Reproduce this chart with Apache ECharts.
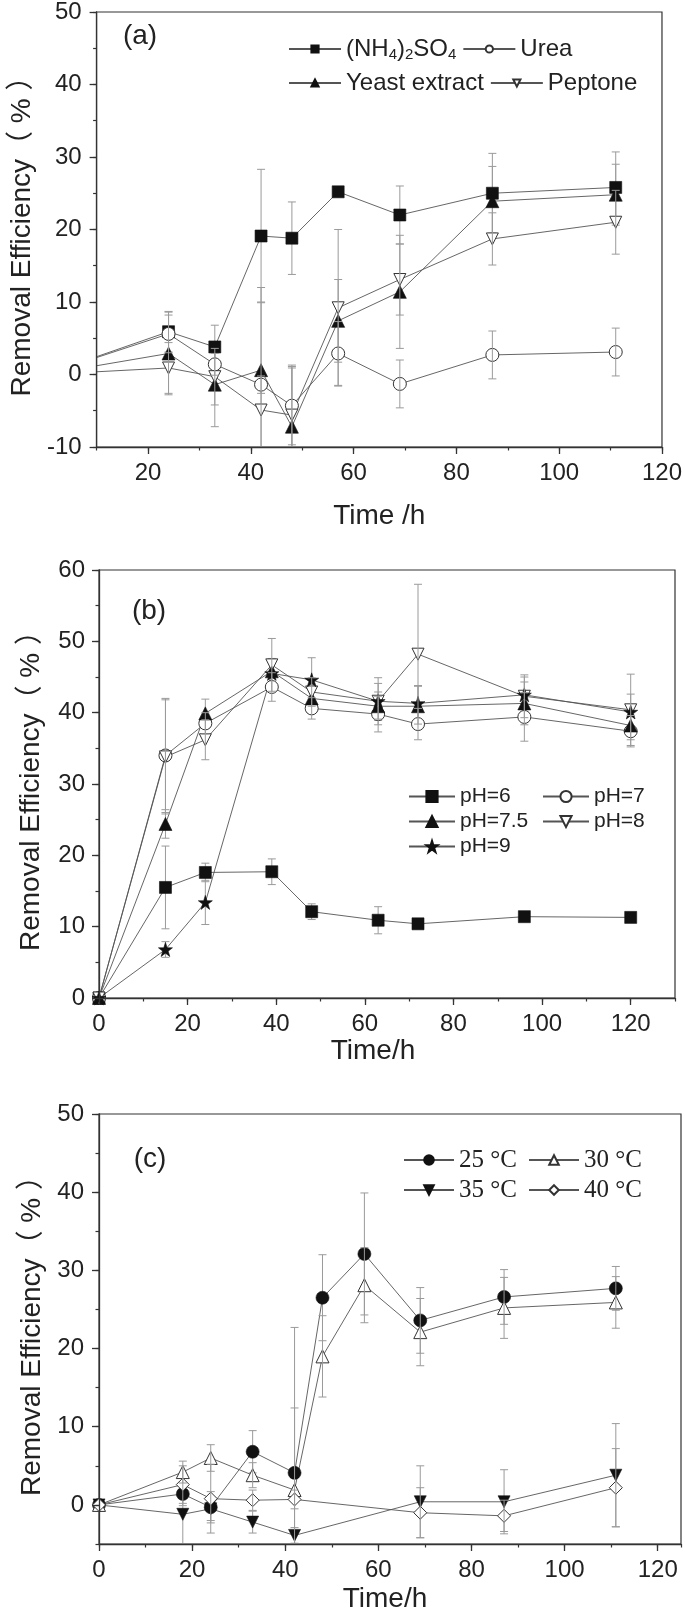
<!DOCTYPE html>
<html>
<head>
<meta charset="utf-8">
<script src="https://cdn.jsdelivr.net/npm/echarts@6/dist/echarts.min.js"></script>
<style>
html,body{margin:0;padding:0;background:#fff;}
#chart{width:685px;height:1614px;}
</style>
</head>
<body>
<div id="chart"></div>
<script>
// ---------- Panel (a): nitrogen source ----------
const timesA = [0, 24, 33, 42, 48, 57, 69, 87, 111];
const nh4 = [0, 5.9, 3.8, 19.1, 18.8, 25.2, 22.0, 25.0, 25.8];
const nh4Err = [0, 2.8, 3.0, 9.2, 5.0, 0, 4.0, 5.5, 4.9];
const urea = [0, 5.6, 1.4, -1.4, -4.3, 2.9, -1.3, 2.7, 3.1];
const ureaErr = [0, 2.6, 1.5, 1.2, 5.4, 4.4, 3.3, 3.3, 3.3];
const yeast = [0, 2.9, -1.4, 0.6, -7.2, 7.4, 11.4, 23.9, 24.8];
const yeastErr = [0, 5.7, 5.8, 11.4, 8.5, 5.7, 7.8, 4.8, 4.2];
const peptone = [0, 0.9, -0.3, -4.9, -5.6, 9.2, 13.1, 18.7, 21.0];
const peptoneErr = [0, 3.5, 3.9, 14.9, 6.5, 10.8, 4.9, 3.6, 4.4];

// ---------- Panel (b): pH ----------
const timesB = [0, 15, 24, 39, 48, 63, 72, 96, 120];
const ph6 = [0, 15.5, 17.6, 17.7, 12.1, 10.9, 10.4, 11.4, 11.3];
const ph6Err = [0, 5.8, 1.3, 1.8, 1.1, 1.9, 0, 0, 0];
const ph7 = [0, 34.0, 38.5, 43.6, 40.6, 39.8, 38.4, 39.4, 37.4];
const ph7Err = [0, 8.0, 1.5, 2.0, 1.5, 2.5, 2.2, 3.4, 2.2];
const ph75 = [0, 24.4, 39.9, 45.8, 42.0, 40.9, 40.9, 41.3, 38.2];
const ph75Err = [0, 2.0, 2.0, 1.8, 2.0, 2.0, 2.8, 3.0, 2.0];
const ph8 = [0, 33.8, 36.2, 46.7, 42.9, 41.6, 48.2, 42.3, 40.4];
const ph8Err = [0, 8.0, 2.8, 3.7, 2.0, 2.5, 9.8, 3.0, 5.0];
const ph9 = [0, 6.8, 13.4, 45.5, 44.6, 41.6, 41.3, 42.5, 40.1];
const ph9Err = [0, 1.1, 3.1, 2.0, 3.1, 3.3, 2.5, 2.5, 2.5];

// ---------- Panel (c): temperature ----------
const timesC = [0, 18, 24, 33, 42, 48, 57, 69, 87, 111];
const t25 = [0, 1.4, -0.3, 6.8, 4.1, 26.5, 32.1, 23.6, 26.6, 27.7];
const t25Err = [0, 1.5, 2.0, 2.7, 18.6, 5.5, 7.8, 4.2, 3.5, 2.8];
const t30 = [0, 4.2, 6.0, 3.8, 1.9, 19.0, 28.1, 22.1, 25.2, 25.9];
const t30Err = [0, 1.4, 1.7, 1.6, 10.5, 5.2, 4.8, 4.3, 3.9, 3.3];
const t35 = [0, -1.2, -0.5, -2.2, -3.9, null, null, 0.4, 0.4, 3.8];
const t35Err = [0, 5.0, 1.5, 1.4, 1.0, 0, 0, 4.6, 4.1, 6.6];
const t40 = [0, 2.6, 0.8, 0.6, 0.7, null, null, -1.0, -1.4, 2.2];
const t40Err = [0, 2.4, 4.4, 1.3, 1.2, 0, 0, 3.2, 2.0, 5.0];

const namesA = ['(NH4)2SO4', 'Urea', 'Yeast extract', 'Peptone'];
const namesB = ['pH=6', 'pH=7', 'pH=7.5', 'pH=8', 'pH=9'];
const namesC = ['25 °C', '30 °C', '35 °C', '40 °C'];

// ---------- styling ----------
const SANS = '"Liberation Sans", Arial, "Noto Sans CJK SC", sans-serif';
const SERIF = '"Liberation Serif", "Times New Roman", serif';
const AX = '#333';
const TXT = '#222';
const LINE = '#555';
const ERR = '#9a9a9a';
const STAR = 'path://M50,0 L61.8,35.3 L99,35.3 L69,57.1 L80.4,92.4 L50,70.6 L19.6,92.4 L31,57.1 L1,35.3 L38.2,35.3 Z';
const TRI_DOWN = 'path://M0,0 L100,0 L50,87 Z';

const grids = [
  {left: 79, top: 11, width: 586, height: 436},
  {left: 99, top: 570, width: 576, height: 428},
  {left: 99, top: 1114, width: 582, height: 432}
].map(g => Object.assign({show: true, borderColor: AX, borderWidth: 1.2, backgroundColor: 'transparent'}, g));

const tickFont = {color: TXT, fontFamily: SANS, fontSize: 24};
function mainAxis(kind, gi, o) {
  return Object.assign({
    type: 'value', gridIndex: gi, position: kind === 'x' ? 'bottom' : 'left',
    axisLine: {show: true, onZero: false, lineStyle: {color: AX, width: 1.3}},
    axisTick: {show: true, inside: false, length: 7, lineStyle: {color: AX, width: 1.3}},
    minorTick: {show: false},
    splitLine: {show: false},
    axisLabel: Object.assign({margin: kind === 'x' ? 14 : 15}, tickFont),
    nameLocation: 'middle',
    nameTextStyle: {color: TXT, fontFamily: SANS, fontSize: 28},
    z: 5
  }, o);
}
function minorAxis(kind, gi, o) {
  return Object.assign({
    type: 'value', gridIndex: gi, position: kind === 'x' ? 'bottom' : 'left',
    axisLine: {show: false, onZero: false},
    axisTick: {show: true, inside: false, length: 3.5, lineStyle: {color: AX, width: 1.2}},
    axisLabel: {show: false},
    splitLine: {show: false},
    silent: true, z: 4
  }, o);
}

const xAxis = [
  mainAxis('x', 0, {min: 10, max: 120, splitNumber: 5, name: 'Time /h', nameGap: 55,
    axisLabel: Object.assign({margin: 14, showMinLabel: false}, tickFont)}),
  mainAxis('x', 1, {min: 0, max: 130, interval: 20, name: 'Time/h', nameGap: 37,
    nameTextStyle: {color: TXT, fontFamily: SANS, fontSize: 28, padding: [0, 28, 0, 0]},
    axisLabel: Object.assign({margin: 14, showMaxLabel: false}, tickFont)}),
  mainAxis('x', 2, {min: 0, max: 125, interval: 20, name: 'Time/h', nameGap: 41,
    nameTextStyle: {color: TXT, fontFamily: SANS, fontSize: 28, padding: [0, 10, 0, 0]},
    axisLabel: Object.assign({margin: 14, showMaxLabel: false}, tickFont)}),
  minorAxis('x', 0, {min: 10, max: 120, interval: 10}),
  minorAxis('x', 1, {min: 0, max: 130, interval: 10}),
  minorAxis('x', 2, {min: 0, max: 125, interval: 10})
];
const yName = 'Removal Efficiency（ % ）';
const yAxis = [
  mainAxis('y', 0, {min: -10, max: 50, interval: 10, name: yName, nameGap: 46}),
  mainAxis('y', 1, {min: 0, max: 60, interval: 10, name: yName, nameGap: 54,
    axisLabel: Object.assign({margin: 14}, tickFont)}),
  mainAxis('y', 2, {min: -5, max: 50, splitNumber: 5, name: yName, nameGap: 48,
    axisLabel: Object.assign({margin: 15, showMinLabel: false}, tickFont)}),
  minorAxis('y', 0, {min: -10, max: 50, interval: 5}),
  minorAxis('y', 1, {min: 0, max: 60, interval: 5}),
  minorAxis('y', 2, {min: -5, max: 50, interval: 5})
];

const series = [];
function addSeries(name, gi, times, vals, errs, symbol, size, filled) {
  const itemStyle = filled
    ? {color: '#111', borderColor: '#111', borderWidth: 0.6}
    : {color: '#fff', borderColor: '#333', borderWidth: 1};
  series.push({
    type: 'line', name: name, xAxisIndex: gi, yAxisIndex: gi,
    data: times.map((t, i) => [t, vals[i]]),
    connectNulls: true, clip: true,
    symbol: symbol, symbolSize: size, showSymbol: true,
    lineStyle: {color: LINE, width: 0.9},
    itemStyle: itemStyle,
    emphasis: {disabled: true},
    z: 3
  });
  const errData = [];
  times.forEach((t, i) => {
    if (vals[i] !== null && errs[i] > 0) errData.push([t, vals[i] - errs[i], vals[i] + errs[i]]);
  });
  series.push({
    type: 'custom', name: 'err ' + name, xAxisIndex: gi, yAxisIndex: gi,
    data: errData, clip: true, silent: true,
    encode: {x: 0, y: [1, 2]},
    z: filled ? 2 : 4,
    renderItem: function (params, api) {
      const x = api.value(0), lo = api.value(1), hi = api.value(2);
      const p1 = api.coord([x, hi]), p2 = api.coord([x, lo]);
      const hw = 4;
      const st = {stroke: ERR, lineWidth: 1, fill: null};
      return {type: 'group', children: [
        {type: 'line', shape: {x1: p1[0], y1: p1[1], x2: p2[0], y2: p2[1]}, style: st},
        {type: 'line', shape: {x1: p1[0] - hw, y1: p1[1], x2: p1[0] + hw, y2: p1[1]}, style: st},
        {type: 'line', shape: {x1: p2[0] - hw, y1: p2[1], x2: p2[0] + hw, y2: p2[1]}, style: st}
      ]};
    }
  });
}

addSeries(namesA[0], 0, timesA, nh4, nh4Err, 'rect', 12, true);
addSeries(namesA[1], 0, timesA, urea, ureaErr, 'circle', 13, false);
addSeries(namesA[2], 0, timesA, yeast, yeastErr, 'triangle', 13, true);
addSeries(namesA[3], 0, timesA, peptone, peptoneErr, TRI_DOWN, 12, false);

addSeries(namesB[0], 1, timesB, ph6, ph6Err, 'rect', 12, true);
addSeries(namesB[1], 1, timesB, ph7, ph7Err, 'circle', 13, false);
addSeries(namesB[2], 1, timesB, ph75, ph75Err, 'triangle', 13, true);
addSeries(namesB[3], 1, timesB, ph8, ph8Err, TRI_DOWN, 12, false);
addSeries(namesB[4], 1, timesB, ph9, ph9Err, STAR, 14, true);

addSeries(namesC[0], 2, timesC, t25, t25Err, 'circle', 13, true);
addSeries(namesC[1], 2, timesC, t30, t30Err, 'triangle', 13, false);
addSeries(namesC[2], 2, timesC, t35, t35Err, TRI_DOWN, 12, true);
addSeries(namesC[3], 2, timesC, t40, t40Err, 'diamond', 13, false);

const legendA = {
  orient: 'horizontal', itemWidth: 52, itemHeight: 9, itemGap: 6,
  textStyle: {color: TXT, fontFamily: SANS, fontSize: 24, lineHeight: 26,
    rich: {n: {fontFamily: SANS, fontSize: 24, lineHeight: 26, color: TXT},
           s: {fontFamily: SANS, fontSize: 15, lineHeight: 8, verticalAlign: 'bottom', color: TXT}}},
  formatter: function (n) { return n === '(NH4)2SO4' ? '{n|(NH}{s|4}{n|)}{s|2}{n|SO}{s|4}' : n; },
  selectedMode: false, padding: 0
};
const legendB = {
  orient: 'vertical', itemWidth: 46, itemHeight: 14, itemGap: 4,
  textStyle: {color: TXT, fontFamily: SANS, fontSize: 21, lineHeight: 20},
  selectedMode: false, padding: 0
};
const legendC = {
  orient: 'vertical', itemWidth: 50, itemHeight: 12, itemGap: 4,
  textStyle: {color: TXT, fontFamily: SERIF, fontSize: 25, lineHeight: 26},
  selectedMode: false, padding: 0
};
const legend = [
  Object.assign({}, legendA, {data: [namesA[0], namesA[1]], left: 288, top: 36}),
  Object.assign({}, legendA, {data: [namesA[2], namesA[3]], left: 288, top: 70}),
  Object.assign({}, legendB, {data: [namesB[0], namesB[2], namesB[4]], left: 408, top: 786}),
  Object.assign({}, legendB, {data: [namesB[1], namesB[3]], left: 542, top: 786}),
  Object.assign({}, legendC, {data: [namesC[0], namesC[2]], left: 403, top: 1147}),
  Object.assign({}, legendC, {data: [namesC[1], namesC[3]], left: 528, top: 1147})
];

const panelLabel = (txt, x, y) => ({
  type: 'text', x: x, y: y, silent: true,
  style: {text: txt, fontFamily: SANS, fontSize: 28, fill: TXT,
          textAlign: 'center', textVerticalAlign: 'middle', align: 'center', verticalAlign: 'middle'}
});

const chart = echarts.init(document.getElementById('chart'), null, {renderer: 'canvas'});
chart.setOption({
  animation: false,
  backgroundColor: '#fff',
  grid: grids,
  xAxis: xAxis,
  yAxis: yAxis,
  legend: legend,
  series: series,
  graphic: [panelLabel('(a)', 140, 36), panelLabel('(b)', 149, 611), panelLabel('(c)', 150, 1159)]
});
</script>
</body>
</html>
